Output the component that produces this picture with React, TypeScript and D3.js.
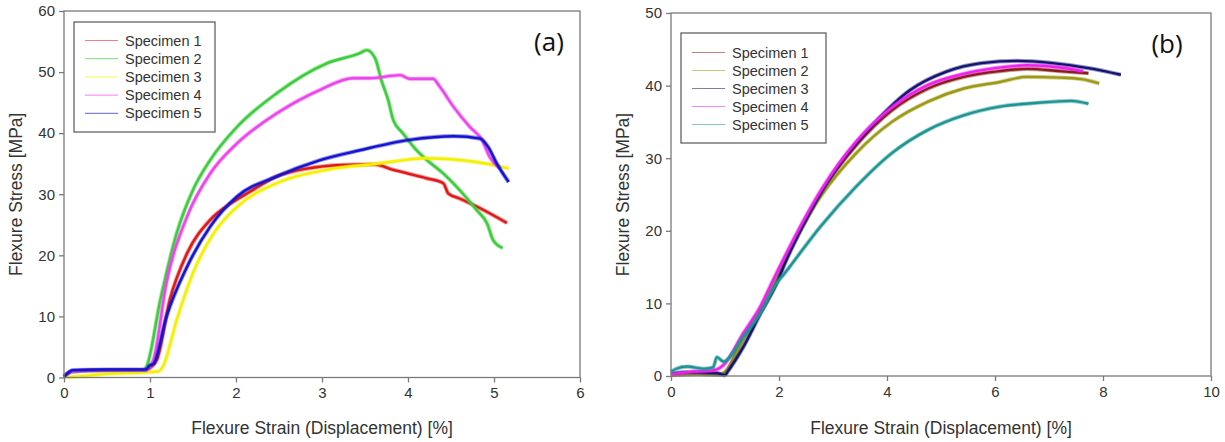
import * as d3 from 'd3';
import { useEffect, useRef } from 'react';

const WIDTH = 1225;
const HEIGHT = 442;

const specimenNames = ['Specimen 1', 'Specimen 2', 'Specimen 3', 'Specimen 4', 'Specimen 5'];

const xTicksA = [0, 1, 2, 3, 4, 5, 6];
const yTicksA = [0, 10, 20, 30, 40, 50, 60];
const xTicksB = [0, 2, 4, 6, 8, 10];
const yTicksB = [0, 10, 20, 30, 40, 50];

const colorsA = ['#e01818', '#3ccc3c', '#f4f000', '#ee44ee', '#1414d0'];
const colorsB = ['#8a1c1c', '#9c9a14', '#141470', '#f020f0', '#1f9494'];

// panel (a) — strain [%], stress [MPa]
const a1: [number, number][] = [
    [0, 0.2], [0.1, 1.0], [0.5, 1.2], [0.95, 1.2], [1.02, 1.8], [1.08, 2.9], [1.23, 12.7],
    [1.43, 20.3], [1.7, 25.8], [1.95, 28.6], [2.16, 30.4], [2.47, 32.9], [2.82, 34.2],
    [3.25, 34.8], [3.6, 34.9], [3.83, 34.0], [4.22, 32.6], [4.41, 31.8], [4.47, 30.1],
    [4.6, 29.3], [4.84, 27.7], [5.15, 25.3],
];
const a2: [number, number][] = [
    [0, 0.2], [0.1, 1.0], [0.5, 1.2], [0.92, 1.2], [0.96, 1.8], [1.12, 12.7], [1.31, 23.6],
    [1.5, 30.7], [1.7, 35.6], [2.01, 41.0], [2.47, 46.5], [3.05, 51.4], [3.44, 53.1],
    [3.52, 53.6], [3.62, 52.2], [3.69, 48.7], [3.77, 45.4], [3.83, 42.1], [3.94, 40.0],
    [4.1, 37.2], [4.22, 35.6], [4.41, 33.4], [4.6, 30.7], [4.8, 27.4], [4.92, 25.2],
    [4.99, 22.5], [5.1, 21.2],
];
const a3: [number, number][] = [
    [0, 0], [0.2, 0.2], [0.5, 0.6], [0.9, 0.8], [1.1, 1.0], [1.15, 1.8], [1.31, 9.4],
    [1.5, 17.1], [1.74, 23.6], [2.01, 27.9], [2.47, 31.8], [3.05, 34.0], [3.64, 35.0],
    [4.22, 35.9], [4.6, 35.6], [4.99, 34.8], [5.17, 34.2],
];
const a4: [number, number][] = [
    [0, 0.2], [0.1, 1.0], [0.5, 1.2], [0.95, 1.2], [1.04, 2.9], [1.19, 15.4], [1.43, 26.3],
    [1.7, 33.4], [2.01, 38.3], [2.47, 43.2], [2.98, 47.1], [3.36, 49.0], [3.56, 49.0],
    [3.91, 49.5], [4.02, 48.9], [4.29, 48.9], [4.37, 47.6], [4.53, 44.3], [4.72, 41.0],
    [4.86, 38.9], [4.95, 36.1], [5.07, 34.2],
];
const a5: [number, number][] = [
    [0, 0.1], [0.05, 0.8], [0.1, 1.2], [0.5, 1.3], [0.95, 1.3], [1.0, 2.0], [1.04, 2.2],
    [1.19, 9.9], [1.43, 18.1], [1.7, 24.7], [2.01, 29.6], [2.47, 32.9], [2.98, 35.6],
    [3.44, 37.2], [4.02, 38.9], [4.53, 39.5], [4.84, 39.1], [4.93, 37.8], [5.03, 35.1],
    [5.17, 32.0],
];

// panel (b)
const b1: [number, number][] = [
    [0, 0.1], [0.5, 0.3], [0.9, 0.2], [1.0, 0.5], [1.34, 5.2], [1.65, 9.0], [2.11, 16.2],
    [2.77, 25.2], [3.43, 31.8], [4.09, 36.6], [4.76, 39.6], [5.42, 41.2], [6.09, 42.0],
    [6.59, 42.3], [7.2, 42.0], [7.73, 41.7],
];
const b2: [number, number][] = [
    [0, 0.1], [0.5, 0.3], [0.9, 0.2], [1.0, 0.5], [1.34, 5.0], [1.65, 9.0], [2.11, 16.0],
    [2.77, 24.7], [3.43, 30.7], [4.09, 35.0], [4.76, 37.8], [5.42, 39.6], [6.09, 40.5],
    [6.59, 41.2], [7.2, 41.1], [7.6, 40.9], [7.93, 40.3],
];
const b3: [number, number][] = [
    [0, 0.3], [0.3, 0.5], [0.85, 0.4], [1.0, 0.1], [1.05, 0.6], [1.34, 4.0], [1.65, 8.5],
    [1.96, 12.8], [2.11, 15.5], [2.57, 22.5], [3.1, 29.0], [3.76, 34.8], [4.43, 39.4],
    [5.09, 41.9], [5.75, 43.1], [6.41, 43.4], [7.07, 43.1], [7.73, 42.4], [8.33, 41.5],
];
const b4: [number, number][] = [
    [0, 0.2], [0.4, 0.6], [0.72, 0.7], [0.85, 0.9], [0.97, 1.5], [1.34, 5.9], [1.65, 9.5],
    [1.89, 13.2], [2.11, 16.5], [2.77, 25.5], [3.43, 32.3], [4.09, 37.0], [4.76, 40.1],
    [5.35, 41.5], [6.0, 42.4], [6.59, 42.8], [7.2, 42.5], [7.63, 42.0],
];
const b5: [number, number][] = [
    [0, 0.6], [0.1, 1.0], [0.3, 1.3], [0.6, 1.0], [0.78, 1.2], [0.85, 2.6], [0.97, 2.0],
    [1.34, 5.4], [1.65, 8.6], [1.96, 12.8], [2.11, 14.2], [2.77, 20.6], [3.43, 26.1],
    [4.09, 30.7], [4.76, 33.9], [5.42, 35.9], [6.09, 37.1], [6.75, 37.6], [7.41, 37.9],
    [7.73, 37.5],
];

const FONT = "'Liberation Sans', Arial, sans-serif";
const AXIS_GREY = '#7a7a7a';
const TEXT = '#333';

type Panel = {
    xDomain: [number, number];
    yDomain: [number, number];
    xRange: [number, number];
    yRange: [number, number];
    xTicks: number[];
    yTicks: number[];
    series: [number, number][][];
    colors: string[];
    tag: string;
    tagPos: [number, number];
    legend: { x: number; y: number; w: number; h: number; row0: number; step: number };
};

const panels: Panel[] = [
    {
        xDomain: [0, 6],
        yDomain: [0, 60],
        xRange: [64, 580],
        yRange: [377.5, 11],
        xTicks: xTicksA,
        yTicks: yTicksA,
        series: [a1, a2, a3, a4, a5],
        colors: colorsA,
        tag: '(a)',
        tagPos: [549, 51],
        legend: { x: 74, y: 22, w: 141, h: 110, row0: 40.5, step: 18.2 },
    },
    {
        xDomain: [0, 10],
        yDomain: [0, 50],
        xRange: [671, 1211],
        yRange: [376, 13],
        xTicks: xTicksB,
        yTicks: yTicksB,
        series: [b1, b2, b3, b4, b5],
        colors: colorsB,
        tag: '(b)',
        tagPos: [1167, 53],
        legend: { x: 681, y: 33, w: 145, h: 110, row0: 52.5, step: 18 },
    },
];

function drawPanel(svg: d3.Selection<SVGSVGElement, unknown, null, undefined>, p: Panel) {
    const x = d3.scaleLinear().domain(p.xDomain).range(p.xRange);
    const y = d3.scaleLinear().domain(p.yDomain).range(p.yRange);
    const g = svg.append('g');

    // curves
    const line = d3
        .line<[number, number]>()
        .x((d) => x(d[0]))
        .y((d) => y(d[1]))
        .curve(d3.curveMonotoneX);

    p.series.forEach((s, i) => {
        g.append('path')
            .datum(s)
            .attr('fill', 'none')
            .attr('stroke', p.colors[i])
            .attr('stroke-opacity', 0.45)
            .attr('stroke-width', 4.2)
            .attr('stroke-linejoin', 'round')
            .attr('d', line);
        g.append('path')
            .datum(s)
            .attr('fill', 'none')
            .attr('stroke', p.colors[i])
            .attr('stroke-width', 2.4)
            .attr('stroke-linejoin', 'round')
            .attr('d', line);
    });

    // frame
    g.append('rect')
        .attr('x', p.xRange[0])
        .attr('y', p.yRange[1])
        .attr('width', p.xRange[1] - p.xRange[0])
        .attr('height', p.yRange[0] - p.yRange[1])
        .attr('fill', 'none')
        .attr('stroke', AXIS_GREY)
        .attr('stroke-width', 1.3);

    const xAxis = g
        .append('g')
        .attr('transform', `translate(0,${p.yRange[0]})`)
        .call(d3.axisBottom(x).tickValues(p.xTicks).tickSize(5).tickSizeOuter(0).tickPadding(5).tickFormat(d3.format('d')));
    const yAxis = g
        .append('g')
        .attr('transform', `translate(${p.xRange[0]},0)`)
        .call(d3.axisLeft(y).tickValues(p.yTicks).tickSize(5).tickSizeOuter(0).tickPadding(4).tickFormat(d3.format('d')));
    [xAxis, yAxis].forEach((ax) => {
        ax.select('.domain').remove();
        ax.selectAll('line').attr('stroke', AXIS_GREY).attr('stroke-width', 1.3);
        ax.selectAll('text').attr('fill', TEXT).style('font-family', FONT).style('font-size', '15px');
    });

    // axis titles
    const cx = (p.xRange[0] + p.xRange[1]) / 2;
    const cy = (p.yRange[0] + p.yRange[1]) / 2;
    g.append('text')
        .attr('x', cx)
        .attr('y', 434)
        .attr('text-anchor', 'middle')
        .attr('fill', TEXT)
        .style('font-family', FONT)
        .style('font-size', '17.5px')
        .text('Flexure Strain (Displacement) [%]');
    g.append('text')
        .attr('transform', `translate(${p.xRange[0] - 42},${cy}) rotate(-90)`)
        .attr('text-anchor', 'middle')
        .attr('fill', TEXT)
        .style('font-family', FONT)
        .style('font-size', '17.5px')
        .text('Flexure Stress [MPa]');

    // panel tag
    g.append('text')
        .attr('x', p.tagPos[0])
        .attr('y', p.tagPos[1])
        .attr('text-anchor', 'middle')
        .attr('fill', '#111')
        .style('font-family', "'Open Sans', sans-serif")
        .style('font-size', '26px')
        .text(p.tag);

    // legend
    const L = p.legend;
    const lg = g.append('g');
    lg.append('rect')
        .attr('x', L.x)
        .attr('y', L.y)
        .attr('width', L.w)
        .attr('height', L.h)
        .attr('fill', '#fff')
        .attr('stroke', '#555')
        .attr('stroke-width', 1.2);
    specimenNames.forEach((name, i) => {
        const ry = L.row0 + i * L.step;
        lg.append('line')
            .attr('x1', L.x + 11)
            .attr('x2', L.x + 44)
            .attr('y1', ry)
            .attr('y2', ry)
            .attr('stroke', p.colors[i])
            .attr('stroke-opacity', 0.55)
            .attr('stroke-width', 1.2);
        lg.append('text')
            .attr('x', L.x + 51)
            .attr('y', ry)
            .attr('dy', '0.35em')
            .attr('fill', TEXT)
            .style('font-family', FONT)
            .style('font-size', '14.5px')
            .text(name);
    });
}

export default function App() {
    const svgRef = useRef<SVGSVGElement>(null);

    useEffect(() => {
        if (!svgRef.current) {
            return;
        }
        const svg = d3.select(svgRef.current);
        svg.selectAll('*').remove();
        svg.append('rect').attr('width', WIDTH).attr('height', HEIGHT).attr('fill', '#fff');
        panels.forEach((p) => drawPanel(svg, p));
    }, []);

    return (
        <svg
            ref={svgRef}
            width={WIDTH}
            height={HEIGHT}
            style={{ position: 'absolute', left: 0, top: 0, display: 'block' }}
        />
    );
}
